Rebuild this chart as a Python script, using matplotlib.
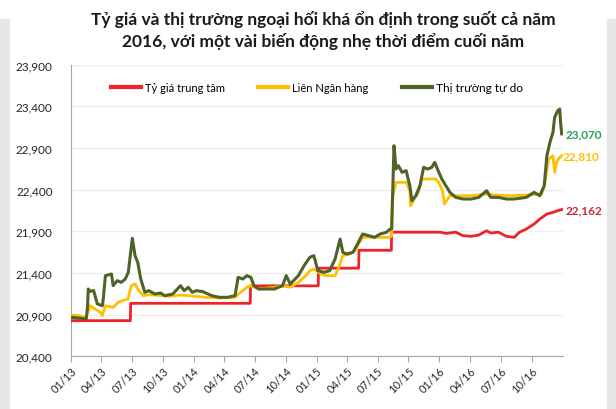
import matplotlib
matplotlib.use("Agg")
import matplotlib.pyplot as plt
import matplotlib.dates as mdates
import matplotlib.ticker as mticker
from matplotlib.patches import Rectangle
import pandas as pd

plt.rcParams["font.family"] = ["Lato", "DejaVu Sans"]

# Tỷ giá trung tâm (official / central rate)
central_dates = ["2013-01-02", "2013-06-27", "2013-06-28", "2014-06-18",
                 "2014-06-19", "2015-01-06", "2015-01-07", "2015-05-06",
                 "2015-05-07", "2015-08-11", "2015-08-12", "2016-01-04",
                 "2016-01-20", "2016-02-18", "2016-03-11", "2016-04-04",
                 "2016-04-27", "2016-05-20", "2016-06-01", "2016-06-24",
                 "2016-07-18", "2016-08-10", "2016-08-25", "2016-09-15",
                 "2016-10-08", "2016-10-25", "2016-11-15", "2016-12-03",
                 "2016-12-17", "2016-12-29"]
central_vals = [20828, 20828, 21036, 21036, 21246, 21246, 21458, 21458,
                21673, 21673, 21890, 21890, 21875, 21890, 21848, 21840,
                21856, 21908, 21880, 21890, 21840, 21828, 21888, 21928,
                21988, 22048, 22108, 22128, 22148, 22162]

# Liên Ngân hàng (interbank)
interbank_dates = ["2013-01-02", "2013-01-24", "2013-02-16", "2013-02-28",
                   "2013-03-14", "2013-03-30", "2013-04-05", "2013-04-14",
                   "2013-05-07", "2013-05-22", "2013-06-04", "2013-06-20",
                   "2013-06-30", "2013-07-11", "2013-07-22", "2013-08-05",
                   "2013-08-21", "2013-09-15", "2013-10-20", "2013-11-23",
                   "2013-12-16", "2014-01-09", "2014-02-05", "2014-03-18",
                   "2014-05-04", "2014-05-20", "2014-06-08", "2014-06-20",
                   "2014-07-13", "2014-08-29", "2014-09-22", "2014-10-15",
                   "2014-11-08", "2014-11-30", "2014-12-12", "2014-12-24",
                   "2015-01-14", "2015-01-30", "2015-02-25", "2015-03-08",
                   "2015-03-20", "2015-04-10", "2015-04-25", "2015-05-06",
                   "2015-05-18", "2015-06-15", "2015-07-15", "2015-08-06",
                   "2015-08-12", "2015-08-14", "2015-08-25", "2015-09-24",
                   "2015-10-05", "2015-10-07", "2015-10-18", "2015-10-30",
                   "2015-11-10", "2015-11-27", "2015-12-20", "2015-12-30",
                   "2016-01-10", "2016-01-16", "2016-02-01", "2016-02-18",
                   "2016-04-04", "2016-05-20", "2016-06-10", "2016-07-30",
                   "2016-09-15", "2016-10-30", "2016-11-08", "2016-11-20",
                   "2016-12-03", "2016-12-08", "2016-12-14", "2016-12-19",
                   "2016-12-29"]
interbank_vals = [20896, 20888, 20868, 21008, 20968, 20928, 20888, 21008,
                  20988, 21048, 21068, 21088, 21248, 21268, 21188, 21128,
                  21140, 21132, 21120, 21136, 21128, 21120, 21108, 21100,
                  21108, 21168, 21228, 21248, 21208, 21228, 21248, 21228,
                  21288, 21368, 21428, 21448, 21388, 21368, 21368, 21468,
                  21608, 21628, 21668, 21748, 21828, 21828, 21828, 21828,
                  21848, 22288, 22488, 22488, 22388, 22208, 22288, 22368,
                  22528, 22528, 22528, 22488, 22388, 22228, 22328, 22328,
                  22328, 22348, 22336, 22328, 22336, 22348, 22448, 22768,
                  22808, 22608, 22728, 22768, 22810]

# Thị trường tự do (free market)
free_dates = ["2013-01-02", "2013-01-24", "2013-02-16", "2013-02-20",
              "2013-02-22", "2013-02-28", "2013-03-10", "2013-03-21",
              "2013-04-05", "2013-04-08", "2013-04-14", "2013-05-02",
              "2013-05-07", "2013-05-19", "2013-05-31", "2013-06-12",
              "2013-06-21", "2013-07-03", "2013-07-11", "2013-07-19",
              "2013-07-28", "2013-08-09", "2013-08-21", "2013-09-08",
              "2013-09-25", "2013-10-07", "2013-10-31", "2013-11-23",
              "2013-12-04", "2013-12-16", "2013-12-28", "2014-01-09",
              "2014-01-27", "2014-02-24", "2014-03-18", "2014-04-11",
              "2014-05-04", "2014-05-13", "2014-05-27", "2014-06-08",
              "2014-06-20", "2014-06-29", "2014-07-13", "2014-08-06",
              "2014-08-29", "2014-09-22", "2014-10-03", "2014-10-15",
              "2014-11-08", "2014-11-25", "2014-12-12", "2014-12-24",
              "2015-01-05", "2015-01-23", "2015-02-09", "2015-02-25",
              "2015-03-12", "2015-03-20", "2015-04-01", "2015-04-19",
              "2015-04-30", "2015-05-18", "2015-06-05", "2015-06-22",
              "2015-07-09", "2015-07-27", "2015-08-08", "2015-08-12",
              "2015-08-19", "2015-08-25", "2015-09-01", "2015-09-12",
              "2015-09-24", "2015-10-05", "2015-10-11", "2015-10-23",
              "2015-11-04", "2015-11-15", "2015-11-27", "2015-12-09",
              "2015-12-18", "2015-12-26", "2016-01-08", "2016-01-20",
              "2016-02-01", "2016-02-18", "2016-03-11", "2016-04-04",
              "2016-04-27", "2016-05-20", "2016-06-01", "2016-06-24",
              "2016-07-18", "2016-08-10", "2016-09-15", "2016-10-08",
              "2016-10-25", "2016-11-07", "2016-11-15", "2016-11-24",
              "2016-12-03", "2016-12-08", "2016-12-17", "2016-12-23",
              "2016-12-26", "2016-12-29"]
free_vals = [20868, 20860, 20848, 21000, 21208, 21180, 21190, 21028,
             21008, 21100, 21368, 21388, 21248, 21308, 21288, 21328,
             21408, 21816, 21608, 21528, 21328, 21168, 21188, 21148,
             21160, 21128, 21148, 21248, 21188, 21228, 21168, 21188,
             21178, 21128, 21108, 21108, 21128, 21348, 21328, 21368,
             21348, 21248, 21208, 21208, 21208, 21248, 21368, 21268,
             21368, 21488, 21588, 21608, 21428, 21408, 21428, 21568,
             21808, 21648, 21628, 21648, 21728, 21868, 21848, 21828,
             21868, 21888, 21928, 21930, 22928, 22648, 22688, 22608,
             22628, 22448, 22268, 22328, 22448, 22668, 22648, 22668,
             22728, 22648, 22528, 22448, 22368, 22308, 22288, 22288,
             22308, 22388, 22308, 22308, 22288, 22288, 22308, 22368,
             22328, 22448, 22808, 22968, 23088, 23268, 23348, 23368,
             23188, 23070]

y_ticks = [20400, 20900, 21400, 21900, 22400, 22900, 23400, 23900]

title = ("Tỷ giá và thị trường ngoại hối khá ổn định trong suốt cả năm\n"
         "2016, với một vài biến động nhẹ thời điểm cuối năm")

red = "#ee2229"
yellow = "#ffc000"
green = "#4f6228"

fig = plt.figure(figsize=(6.16, 4.10), dpi=100)
# light grey side bands of the original graphic
fig.patches.append(Rectangle((0, 0), 9 / 616, 390 / 410, transform=fig.transFigure,
                             color="#e6e7e9", zorder=0))
fig.patches.append(Rectangle((607 / 616, 0), 9 / 616, 390 / 410,
                             transform=fig.transFigure, color="#e6e7e9", zorder=0))

ax = fig.add_axes([0.1148, 0.1285, 0.7987, 0.7112])

ax.plot(pd.to_datetime(central_dates), central_vals, color=red, lw=2.0,
        label="Tỷ giá trung tâm", zorder=3)
ax.plot(pd.to_datetime(interbank_dates), interbank_vals, color=yellow, lw=2.0,
        label="Liên Ngân hàng", zorder=4)
ax.plot(pd.to_datetime(free_dates), free_vals, color=green, lw=2.2,
        label="Thị trường tự do", zorder=5)

ax.set_xlim(pd.Timestamp("2013-01-01"), pd.Timestamp("2017-01-01"))
ax.set_ylim(20400, 23900)
ax.set_yticks(y_ticks)
ax.yaxis.set_major_formatter(mticker.StrMethodFormatter("{x:,.0f}"))
xt = pd.date_range("2013-01-01", "2016-10-01", freq="QS")
ax.set_xticks(xt)
ax.xaxis.set_major_formatter(mdates.DateFormatter("%m/%y"))
for lbl in ax.get_xticklabels():
    lbl.set_rotation(45)
    lbl.set_ha("right")
    lbl.set_rotation_mode("anchor")

ax.tick_params(axis="y", length=0, labelsize=8.5, labelcolor="#262626", pad=13)
ax.tick_params(axis="x", length=4, color="#a6a6a6", labelsize=8,
               labelcolor="#262626", pad=2)
ax.grid(axis="y", color="#efefef", lw=1)
ax.set_axisbelow(True)
for s in ["top", "right"]:
    ax.spines[s].set_visible(False)
for s in ["left", "bottom"]:
    ax.spines[s].set_color("#a6a6a6")

leg = ax.legend(loc="center", bbox_to_anchor=(0.5, 0.9235), ncol=3,
                frameon=False, fontsize=8, handlelength=2.7,
                handletextpad=0.35, columnspacing=3.0)
for line in leg.get_lines():
    line.set_linewidth(3)
leg.get_texts()[2].set_fontsize(8.6)

# end-of-series value labels
end_x = pd.Timestamp("2017-01-01")
ax.annotate("23,070", (end_x, free_vals[-1]), xytext=(2, 0),
            textcoords="offset points", color="#21a35a", fontsize=8.5,
            fontweight="bold", va="center", annotation_clip=False)
ax.annotate("22,810", (end_x, interbank_vals[-1]), xytext=(0, 0),
            textcoords="offset points", color=yellow, fontsize=8.5,
            fontweight="bold", va="center", annotation_clip=False)
ax.annotate("22,162", (end_x, central_vals[-1]), xytext=(2, 0),
            textcoords="offset points", color="#c8283a", fontsize=8.5,
            fontweight="bold", va="center", annotation_clip=False)

fig.text(0.525, 0.925, title, ha="center", va="center", fontsize=12.5,
         fontweight="bold", color="#1a1a1a", linespacing=1.35)

fig.savefig("out.png", dpi=100)
